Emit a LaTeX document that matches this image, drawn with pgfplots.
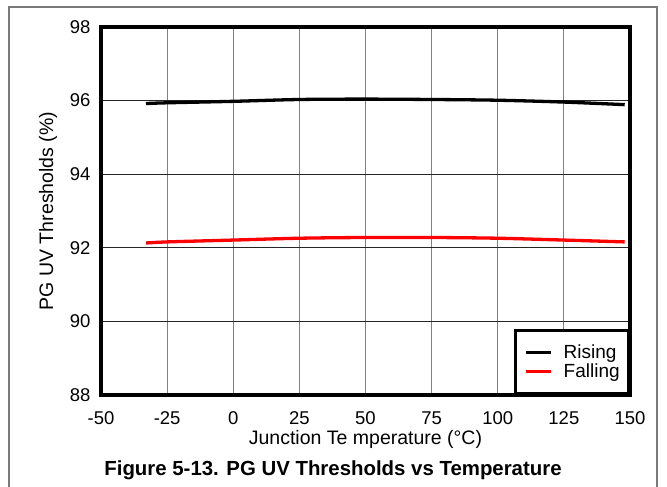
\documentclass[border=0pt]{standalone}
\usepackage{pgfplots}
\pgfplotsset{compat=1.18}
\usepackage{fontspec}
\setmainfont{Liberation Sans}
\begin{document}
\begin{tikzpicture}[x=1pt,y=1pt]
\path[use as bounding box] (-101,-92) rectangle (566,395);
\draw[color=gray!95!black, line width=1.5pt] (-92,-100) -- (-92,388) -- (556,388) -- (556,-100);
\begin{axis}[
  at={(0,0)}, anchor=south west,
  scale only axis, width=529pt, height=368pt,
  xmin=-50, xmax=150, ymin=88, ymax=98,
  xtick={-50,-25,...,150}, ytick={88,90,...,98},
  major tick length=0pt,
  grid=major,
  major x grid style={color=gray, line width=1.1pt},
  major y grid style={color=black!85, line width=0.9pt},
  axis line style={line width=3.2pt},
  tick label style={font=\fontsize{18.5}{22}\selectfont},
  /pgf/number format/assume math mode=true,
  xticklabel style={anchor=center, yshift=-23pt},
  yticklabel style={anchor=east, xshift=-7pt},
  label style={font=\fontsize{19.5}{22}\selectfont},
  xlabel={Junction Te mperature (\textdegree C)},
  ylabel={PG UV Thresholds (\%)},
  xlabel style={at={(axis description cs:0.5,-0.122)}, anchor=center},
  ylabel style={at={(axis description cs:-0.1,0.5)}, anchor=center},
  legend style={at={(1,0)}, anchor=south east, draw=black, line width=2.6pt,
    font=\fontsize{19}{22}\selectfont, inner xsep=9pt, inner ysep=14.5pt,
    nodes={inner sep=0pt}, row sep=3.5pt, column sep=11pt},
  legend image code/.code={\draw[#1] (0pt,0pt) -- (25pt,0pt);},
  clip=false,
]
\addplot[black, line width=3.3pt, smooth] coordinates {
(-33,95.92) (-25,95.94) (0,95.98) (25,96.03) (50,96.04) (75,96.03) (100,96.01) (125,95.96) (148,95.89)};
\addlegendentry{\makebox[56pt][l]{Rising}}
\addplot[red, line width=3.3pt, smooth] coordinates {
(-33,92.13) (-25,92.16) (0,92.21) (25,92.26) (50,92.28) (75,92.28) (100,92.26) (125,92.21) (148,92.16)};
\addlegendentry{\makebox[56pt][l]{Falling}}
\end{axis}
\node[font=\bfseries\fontsize{20.4}{24}\selectfont] at (232,-75) {Figure 5-13. PG UV Thresholds vs Temperature};
\end{tikzpicture}
\end{document}
